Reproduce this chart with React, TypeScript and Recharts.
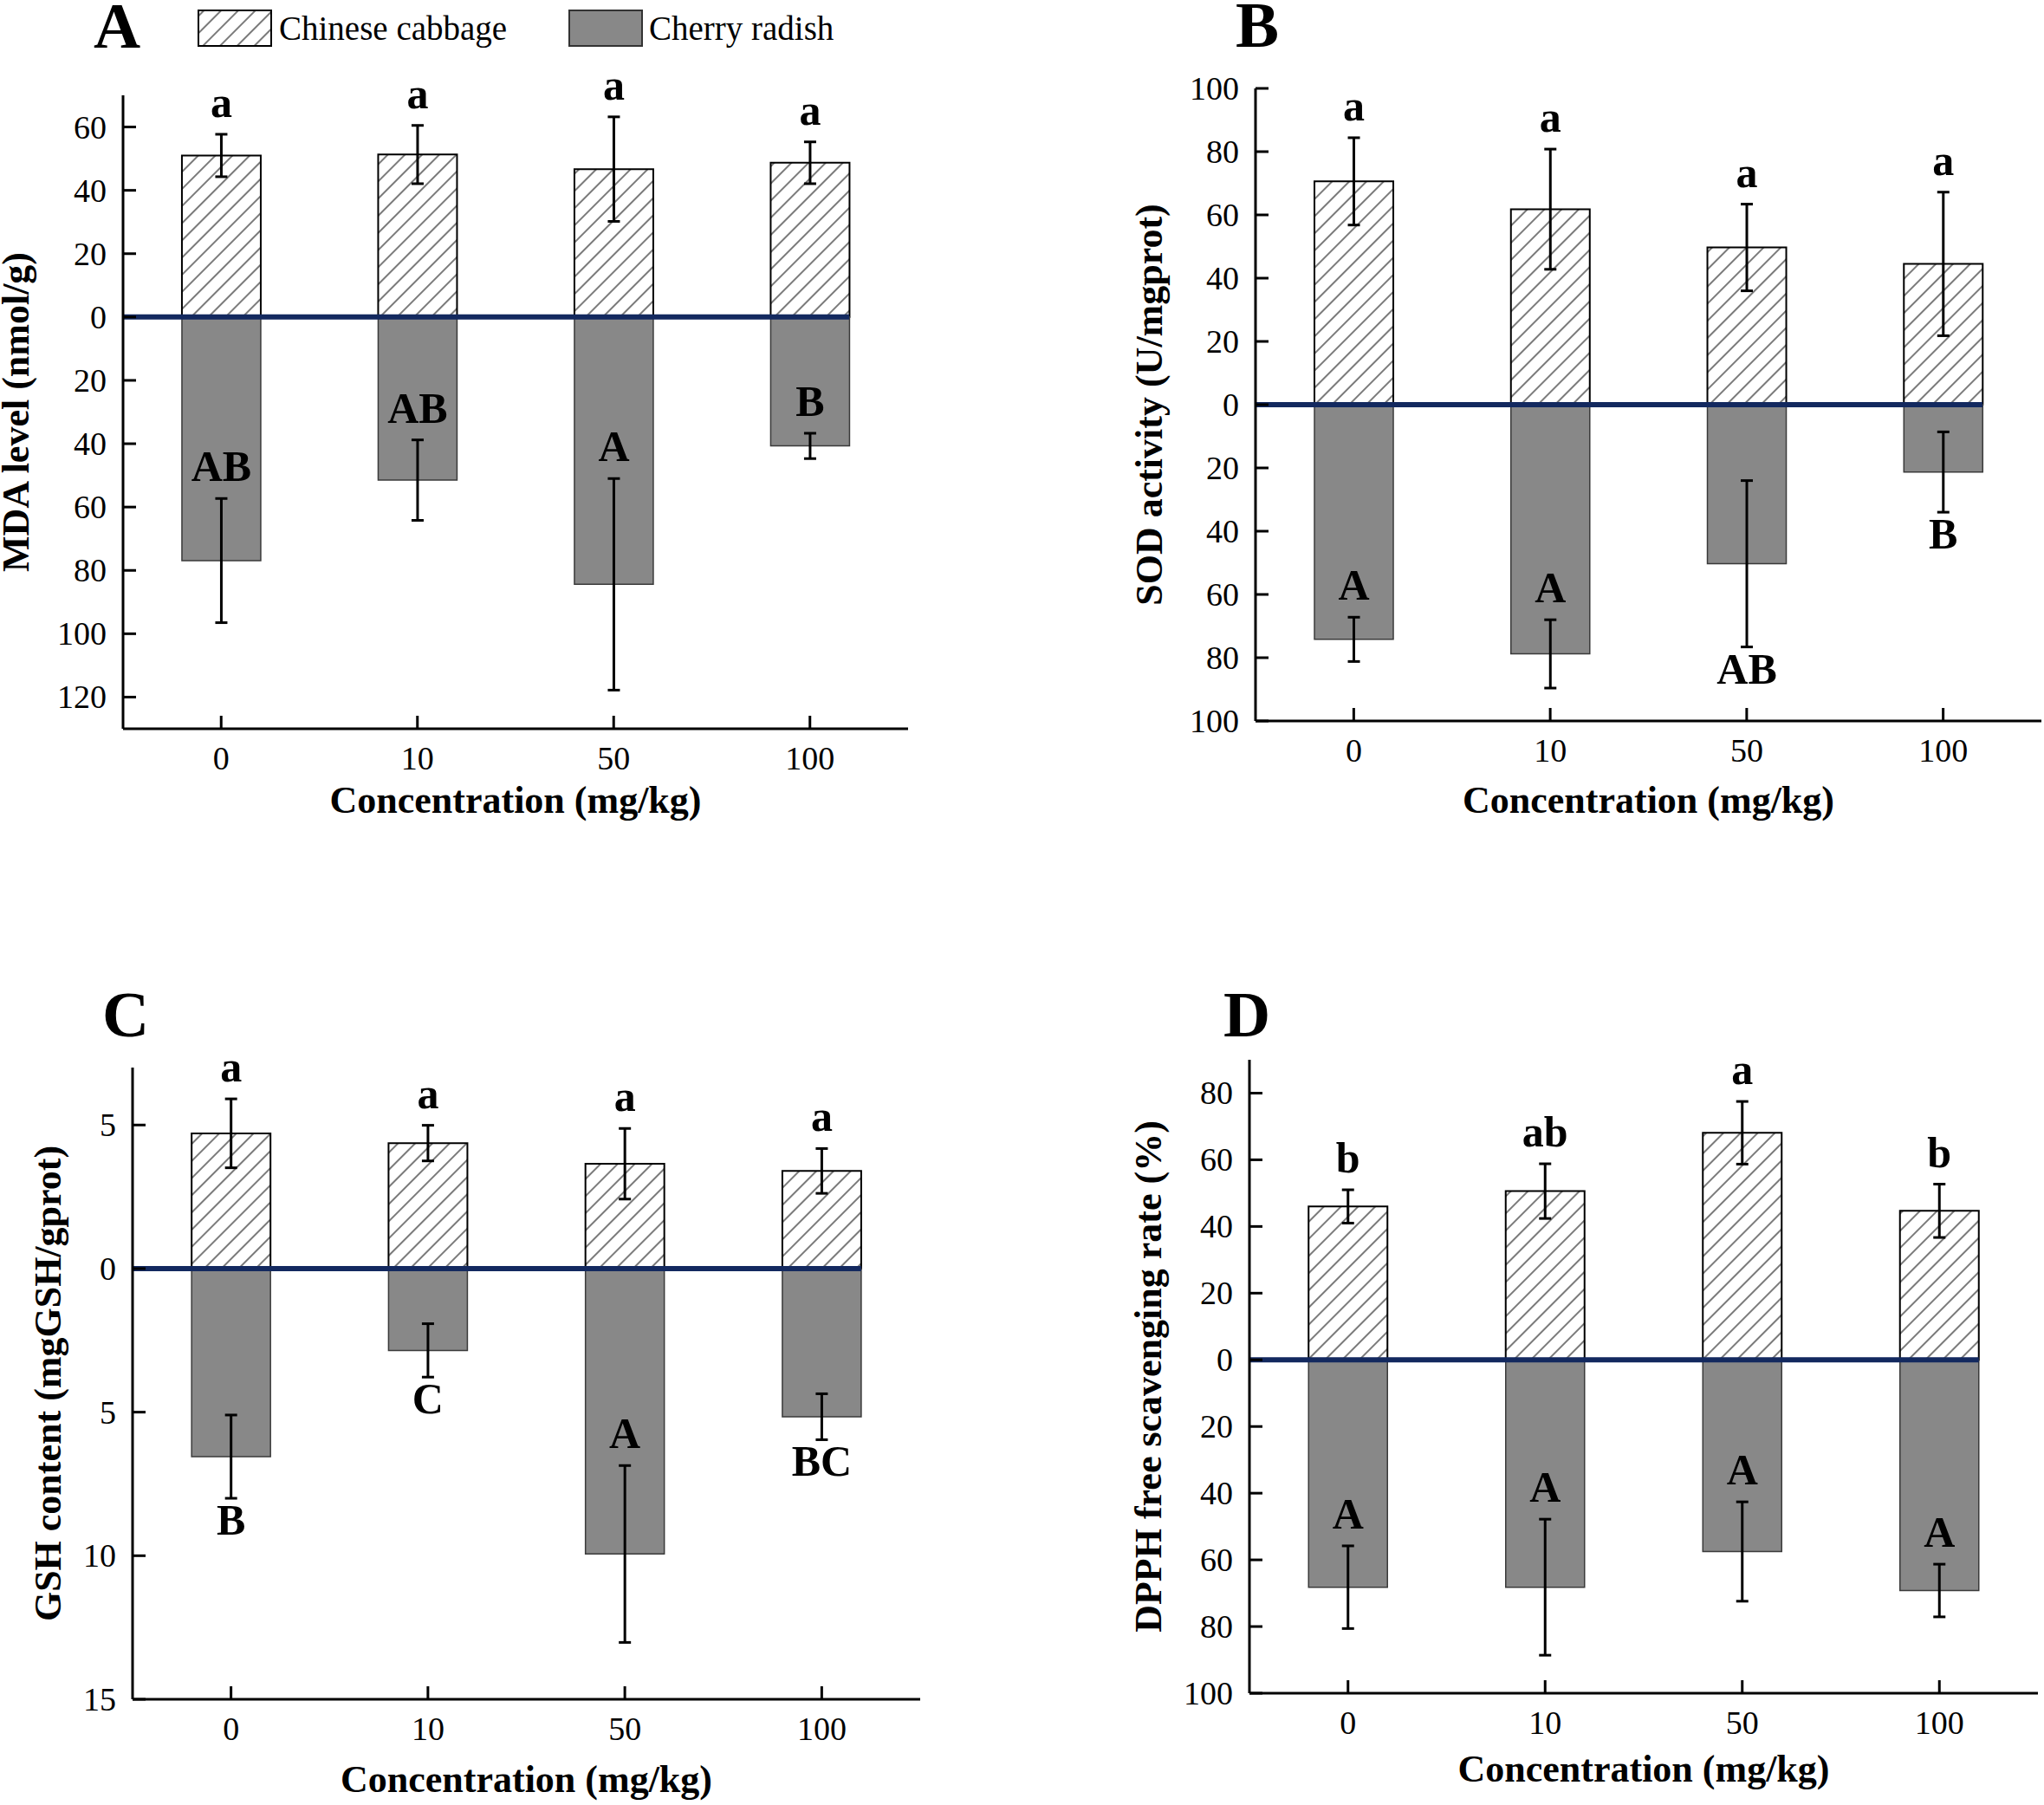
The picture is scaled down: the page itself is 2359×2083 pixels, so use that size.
import React from 'react';
import { BarChart, Bar, XAxis, YAxis, ErrorBar, LabelList, ReferenceLine } from 'recharts';

const FONT = "'Liberation Serif', 'Times New Roman', Times, serif";
const NAVY = '#13295f';
const GRAY = '#888888';

// ---------- data ----------
const CONCENTRATIONS = ['0', '10', '50', '100'];

// A: MDA level (nmol/g)
const MDA_CABBAGE = [51.0, 51.3, 46.7, 48.7];
const MDA_CABBAGE_SD = [6.7, 9.2, 16.5, 6.6];
const MDA_RADISH = [76.9, 51.5, 84.4, 40.7];
const MDA_RADISH_SD = [19.6, 12.7, 33.4, 4.0];
const MDA_CABBAGE_LETTERS = ['a', 'a', 'a', 'a'];
const MDA_RADISH_LETTERS = ['AB', 'AB', 'A', 'B'];
const MDA_RADISH_SIDE = ['above', 'above', 'above', 'above'];
const MDA_TICKS = [-120, -100, -80, -60, -40, -20, 0, 20, 40, 60];

// B: SOD activity (U/mgprot)
const SOD_CABBAGE = [70.6, 61.8, 49.7, 44.5];
const SOD_CABBAGE_SD = [13.8, 19.0, 13.7, 22.7];
const SOD_RADISH = [74.2, 78.8, 50.3, 21.3];
const SOD_RADISH_SD = [7.0, 10.8, 26.3, 12.7];
const SOD_CABBAGE_LETTERS = ['a', 'a', 'a', 'a'];
const SOD_RADISH_LETTERS = ['A', 'A', 'AB', 'B'];
const SOD_RADISH_SIDE = ['above', 'above', 'below', 'below'];
const SOD_TICKS = [-100, -80, -60, -40, -20, 0, 20, 40, 60, 80, 100];

// C: GSH content (mgGSH/gprot)
const GSH_CABBAGE = [4.71, 4.37, 3.65, 3.4];
const GSH_CABBAGE_SD = [1.2, 0.62, 1.23, 0.78];
const GSH_RADISH = [6.55, 2.85, 9.94, 5.16];
const GSH_RADISH_SD = [1.45, 0.93, 3.08, 0.8];
const GSH_CABBAGE_LETTERS = ['a', 'a', 'a', 'a'];
const GSH_RADISH_LETTERS = ['B', 'C', 'A', 'BC'];
const GSH_RADISH_SIDE = ['below', 'below', 'above', 'below'];
const GSH_TICKS = [-15, -10, -5, 0, 5];

// D: DPPH free scavenging rate (%)
const DPPH_CABBAGE = [46.0, 50.6, 68.1, 44.7];
const DPPH_CABBAGE_SD = [5.0, 8.2, 9.4, 8.0];
const DPPH_RADISH = [68.2, 68.2, 57.5, 69.2];
const DPPH_RADISH_SD = [12.4, 20.4, 14.9, 7.9];
const DPPH_CABBAGE_LETTERS = ['b', 'ab', 'a', 'b'];
const DPPH_RADISH_LETTERS = ['A', 'A', 'A', 'A'];
const DPPH_RADISH_SIDE = ['above', 'above', 'above', 'above'];
const DPPH_TICKS = [-100, -80, -60, -40, -20, 0, 20, 40, 60, 80];

const SERIES_NAMES = ['Chinese cabbage', 'Cherry radish'];

// ---------- panels ----------
interface PanelSpec {
  id: string;
  yTitle: string;
  cabbage: number[];
  cabbageSd: number[];
  radish: number[];
  radishSd: number[];
  cabbageLetters: string[];
  radishLetters: string[];
  radishSide: string[];
  domain: [number, number];
  ticks: number[];
  plotX: number;
  plotY: number;
  plotW: number;
  plotH: number;
  yTitleGap: number;
  xTitleGap: number;
  letterX: number;
  letterY: number;
}

const PANELS: PanelSpec[] = [
  {
    id: 'A', yTitle: 'MDA level (nmol/g)',
    cabbage: MDA_CABBAGE, cabbageSd: MDA_CABBAGE_SD, radish: MDA_RADISH, radishSd: MDA_RADISH_SD,
    cabbageLetters: MDA_CABBAGE_LETTERS, radishLetters: MDA_RADISH_LETTERS, radishSide: MDA_RADISH_SIDE,
    domain: [-130, 70], ticks: MDA_TICKS,
    plotX: 142, plotY: 110, plotW: 906, plotH: 731, yTitleGap: 109, xTitleGap: 97, letterX: 108, letterY: 55,
  },
  {
    id: 'B', yTitle: 'SOD activity (U/mgprot)',
    cabbage: SOD_CABBAGE, cabbageSd: SOD_CABBAGE_SD, radish: SOD_RADISH, radishSd: SOD_RADISH_SD,
    cabbageLetters: SOD_CABBAGE_LETTERS, radishLetters: SOD_RADISH_LETTERS, radishSide: SOD_RADISH_SIDE,
    domain: [-100, 100], ticks: SOD_TICKS,
    plotX: 1449, plotY: 102, plotW: 907, plotH: 730, yTitleGap: 108, xTitleGap: 106, letterX: 1426, letterY: 54,
  },
  {
    id: 'C', yTitle: 'GSH content (mgGSH/gprot)',
    cabbage: GSH_CABBAGE, cabbageSd: GSH_CABBAGE_SD, radish: GSH_RADISH, radishSd: GSH_RADISH_SD,
    cabbageLetters: GSH_CABBAGE_LETTERS, radishLetters: GSH_RADISH_LETTERS, radishSide: GSH_RADISH_SIDE,
    domain: [-15, 7], ticks: GSH_TICKS,
    plotX: 153, plotY: 1232, plotW: 909, plotH: 729, yTitleGap: 83, xTitleGap: 107, letterX: 118, letterY: 1196,
  },
  {
    id: 'D', yTitle: 'DPPH free scavenging rate (%)',
    cabbage: DPPH_CABBAGE, cabbageSd: DPPH_CABBAGE_SD, radish: DPPH_RADISH, radishSd: DPPH_RADISH_SD,
    cabbageLetters: DPPH_CABBAGE_LETTERS, radishLetters: DPPH_RADISH_LETTERS, radishSide: DPPH_RADISH_SIDE,
    domain: [-100, 90], ticks: DPPH_TICKS,
    plotX: 1442, plotY: 1223, plotW: 910, plotH: 731, yTitleGap: 102, xTitleGap: 102, letterX: 1412, letterY: 1196,
  },
];

const buildRows = (p: PanelSpec) =>
  CONCENTRATIONS.map((c, i) => ({
    conc: c,
    cabbage: p.cabbage[i],
    cabbageSd: p.cabbageSd[i],
    radish: -p.radish[i],
    radishSd: p.radishSd[i],
    cabbageLetter: p.cabbageLetters[i],
    radishLetter: p.radishLetters[i],
    radishSide: p.radishSide[i],
  }));

// ---------- custom ticks ----------
const YTick = (props: any) => {
  const { x, y, payload } = props;
  return (
    <g>
      <line x1={x} y1={y} x2={x + 15} y2={y} stroke="#000" strokeWidth={3} />
      <text x={x - 19} y={y} dy={13} textAnchor="end" fontFamily={FONT} fontSize={38} fill="#000">
        {Math.abs(payload.value)}
      </text>
    </g>
  );
};

const XTick = (props: any) => {
  const { x, y, payload } = props;
  return (
    <g>
      <line x1={x} y1={y} x2={x} y2={y - 15} stroke="#000" strokeWidth={3} />
      <text x={x} y={y + 47} textAnchor="middle" fontFamily={FONT} fontSize={38} fill="#000">
        {payload.value}
      </text>
    </g>
  );
};

// ---------- significance letters ----------
const letterContent = (rows: any[], series: 'cabbage' | 'radish') => (props: any) => {
  const vb = props.viewBox || props;
  const row = rows[props.index];
  if (!row || !vb) return null;
  const x = Number(vb.x);
  const y = Number(vb.y);
  const w = Number(vb.width);
  const h = Number(vb.height);
  const top = Math.min(y, y + h);
  const bottom = Math.max(y, y + h);
  const value = series === 'cabbage' ? row.cabbage : row.radish;
  const sd = series === 'cabbage' ? row.cabbageSd : row.radishSd;
  const ppu = (bottom - top) / Math.abs(value);
  const cx = x + w / 2;
  let baseline: number;
  if (series === 'cabbage') baseline = top - sd * ppu - 20;
  else if (row.radishSide === 'above') baseline = bottom - sd * ppu - 20;
  else baseline = bottom + sd * ppu + 42;
  return (
    <text x={cx} y={baseline} textAnchor="middle" fontFamily={FONT} fontWeight="bold" fontSize={50} fill="#000">
      {series === 'cabbage' ? row.cabbageLetter : row.radishLetter}
    </text>
  );
};

const zeroLine = (p: any) => (
  <line x1={p.x1} y1={p.y1} x2={p.x1 + (p.x2 - p.x1) * 0.925} y2={p.y2} stroke={NAVY} strokeWidth={6} />
);

const YW = 130;
const MT = 80;
const XH = 110;
const MR = 1;

const Panel = ({ spec }: { spec: PanelSpec }) => {
  const rows = buildRows(spec);
  const width = YW + spec.plotW + MR;
  const height = MT + spec.plotH + XH;
  return (
    <div style={{ position: 'absolute', left: spec.plotX - YW, top: spec.plotY - MT, width, height }}>
      <BarChart
        width={width}
        height={height}
        data={rows}
        stackOffset="sign"
        barCategoryGap="30%"
        margin={{ top: MT, right: MR, bottom: 0, left: 0 }}
        style={{ overflow: 'visible' }}
      >
        <XAxis
          dataKey="conc"
          height={XH}
          interval={0}
          tickLine={false}
          tickSize={0}
          tickMargin={0}
          axisLine={{ stroke: '#000', strokeWidth: 3 }}
          tick={(p: any) => <XTick {...p} />}
        />
        <YAxis
          type="number"
          domain={spec.domain}
          ticks={spec.ticks}
          interval={0}
          width={YW}
          allowDataOverflow
          tickLine={false}
          tickSize={0}
          tickMargin={0}
          axisLine={{ stroke: '#000', strokeWidth: 3 }}
          tick={(p: any) => <YTick {...p} />}
        />
        <Bar dataKey="cabbage" name={SERIES_NAMES[0]} stackId="s" fill="url(#hatch)" stroke="#000" strokeWidth={2} isAnimationActive={false}>
          <ErrorBar dataKey="cabbageSd" direction="y" width={7} stroke="#000" strokeWidth={3} />
          <LabelList dataKey="cabbageLetter" content={letterContent(rows, 'cabbage')} />
        </Bar>
        <Bar dataKey="radish" name={SERIES_NAMES[1]} stackId="s" fill={GRAY} stroke="#3a3a3a" strokeWidth={1.5} isAnimationActive={false}>
          <ErrorBar dataKey="radishSd" direction="y" width={7} stroke="#000" strokeWidth={3} />
          <LabelList dataKey="radishLetter" content={letterContent(rows, 'radish')} />
        </Bar>
        <ReferenceLine y={0} stroke={NAVY} strokeWidth={6} shape={zeroLine} />
      </BarChart>
    </div>
  );
};

export default function App() {
  return (
    <div style={{ position: 'absolute', left: 0, top: 0, width: 2359, height: 2083, overflow: 'hidden', background: '#fff' }}>
      <style>{'html,body{margin:0;overflow:hidden;background:#fff}'}</style>
      <svg width={0} height={0} style={{ position: 'absolute' }}>
        <defs>
          <pattern id="hatch" patternUnits="userSpaceOnUse" width={14} height={14} patternTransform="rotate(45)">
            <rect x={0} y={0} width={14} height={14} fill="#fff" />
            <line x1={7} y1={0} x2={7} y2={14} stroke="#222" strokeWidth={1.2} />
          </pattern>
        </defs>
      </svg>
      {PANELS.map((p) => (
        <Panel key={p.id} spec={p} />
      ))}
      <svg width={2359} height={2083} style={{ position: 'absolute', left: 0, top: 0, pointerEvents: 'none' }}>
        {/* legend */}
        <rect x={229} y={12} width={84} height={41} fill="url(#hatch)" stroke="#000" strokeWidth={2} />
        <text x={322} y={46} fontFamily={FONT} fontSize={39} fill="#000">{SERIES_NAMES[0]}</text>
        <rect x={657} y={12} width={84} height={41} fill={GRAY} stroke="#333" strokeWidth={2} />
        <text x={749} y={46} fontFamily={FONT} fontSize={39} fill="#000">{SERIES_NAMES[1]}</text>
        {PANELS.map((p) => {
          const cy = p.plotY + p.plotH / 2;
          const tx = p.plotX - p.yTitleGap;
          return (
            <g key={p.id}>
              <text x={p.letterX} y={p.letterY} fontFamily={FONT} fontWeight="bold" fontSize={75} fill="#000">
                {p.id}
              </text>
              <text
                x={tx}
                y={cy}
                transform={`rotate(-90 ${tx} ${cy})`}
                textAnchor="middle"
                fontFamily={FONT}
                fontWeight="bold"
                fontSize={44}
                fill="#000"
              >
                {p.yTitle}
              </text>
              <text
                x={p.plotX + p.plotW / 2}
                y={p.plotY + p.plotH + p.xTitleGap}
                textAnchor="middle"
                fontFamily={FONT}
                fontWeight="bold"
                fontSize={44}
                fill="#000"
              >
                Concentration (mg/kg)
              </text>
            </g>
          );
        })}
      </svg>
    </div>
  );
}
